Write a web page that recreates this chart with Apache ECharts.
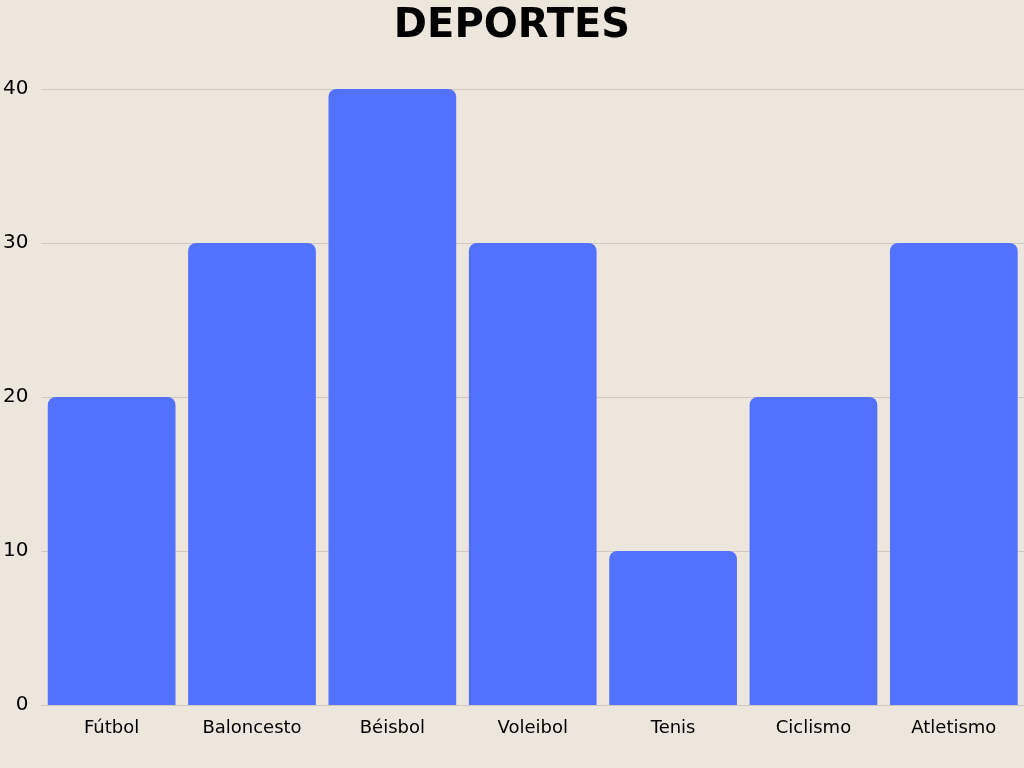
<!DOCTYPE html>
<html>
<head>
<meta charset="utf-8">
<script src="https://cdn.jsdelivr.net/npm/echarts@6/dist/echarts.min.js"></script>
<style>
  html, body { margin: 0; padding: 0; background: #ede6dd; }
  #chart { width: 1024px; height: 768px; }
</style>
</head>
<body>
<div id="chart"></div>
<script>
const categories = ['Fútbol', 'Baloncesto', 'Béisbol', 'Voleibol', 'Tenis', 'Ciclismo', 'Atletismo']
const values = [20, 30, 40, 30, 10, 20, 30]

const chart = echarts.init(document.getElementById('chart'))

chart.setOption({
  backgroundColor: '#ede6dd',
  title: {
    text: 'DEPORTES',
    left: 'center',
    top: 2,
    textStyle: {
      fontFamily: 'DejaVu Sans',
      fontWeight: 900,
      fontSize: 40,
      color: '#000'
    }
  },
  grid: {
    left: 39,
    top: 89,
    width: 991,
    bottom: 63,
    containLabel: false
  },
  xAxis: {
    type: 'category',
    data: categories,
    axisLine: { show: true, lineStyle: { color: '#cfc8c0' } },
    axisTick: { show: false },
    axisLabel: {
      fontFamily: 'DejaVu Sans',
      fontSize: 18,
      color: '#000',
      margin: 14
    }
  },
  yAxis: {
    type: 'value',
    min: 0,
    max: 40,
    interval: 10,
    axisLine: { show: false },
    axisTick: { show: false },
    splitLine: { lineStyle: { color: '#cfc8c0', width: 1 } },
    axisLabel: {
      fontFamily: 'DejaVu Sans',
      fontSize: 20,
      color: '#000',
      margin: 13
    }
  },
  series: [{
    type: 'bar',
    data: values,
    barCategoryGap: '9%',
    itemStyle: {
      color: '#5271ff',
      borderRadius: [8, 8, 0, 0]
    }
  }]
})
</script>
</body>
</html>
